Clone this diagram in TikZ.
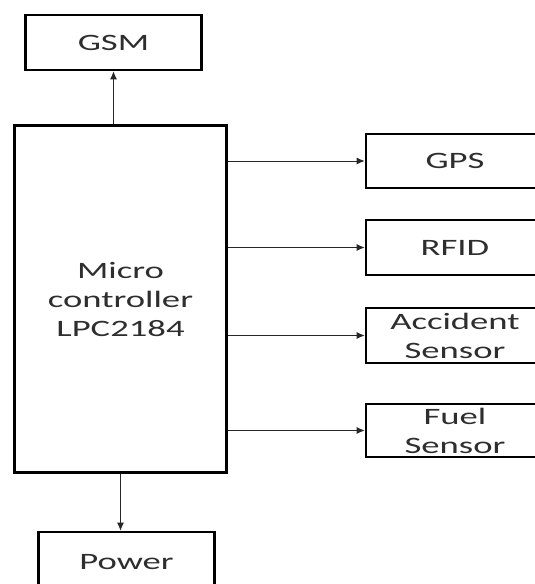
\documentclass[tikz,border=0pt]{standalone}
\usepackage{fontspec}
\setmainfont{Carlito}[FakeStretch=1.56]
\usetikzlibrary{arrows.meta}
\definecolor{txt}{HTML}{2E2E2E}
\begin{document}
\begin{tikzpicture}[x=1pt,y=-1pt,
  blk/.style={draw=black,line width=2.6pt,inner sep=0pt,align=center,text=txt,
    font=\fontsize{23.5}{29}\selectfont},
  conn/.style={draw=black!85,line width=0.9pt,-{Latex[length=8pt,width=7pt]}}]
\clip (0,0) rectangle (535,584);
\fill[white] (0,0) rectangle (535,584);
\node[blk,minimum width=176pt,minimum height=55pt] (gsm) at (113.5,42.5) {GSM};
\node[blk,minimum width=212pt,minimum height=347pt] (mcu) at (120.5,299) {Micro\\controller\\LPC2184};
\node[blk,minimum width=176pt,minimum height=60pt] (power) at (126.5,562) {Power};
\node[blk,minimum width=178pt,minimum height=54pt] (gps) at (455,161) {GPS};
\node[blk,minimum width=178pt,minimum height=55pt] (rfid) at (455,247.5) {RFID};
\node[blk,minimum width=178pt,minimum height=55pt] (acc) at (455,335.5) {Accident\\Sensor};
\node[blk,minimum width=178pt,minimum height=53pt] (fuel) at (455,430.5) {Fuel\\Sensor};
\draw[conn] (mcu.north -| gsm.south) -- (gsm.south);
\draw[conn] (mcu.south) -- (mcu.south |- power.north);
\foreach \t in {gps,rfid,acc,fuel}
  \draw[conn] (mcu.east |- \t.west) -- (\t.west);
\end{tikzpicture}
\end{document}
